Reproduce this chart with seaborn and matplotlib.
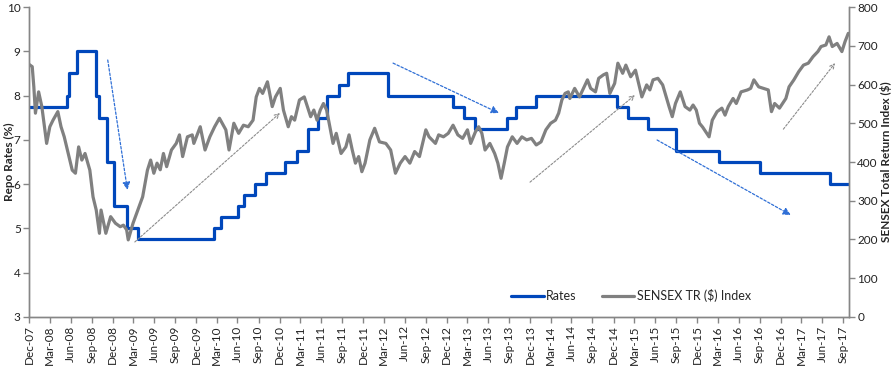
import numpy as np
import pandas as pd
import matplotlib
matplotlib.use('Agg')
import matplotlib.pyplot as plt
import matplotlib.dates as mdates
import seaborn as sns

# -------------------------------------------------------
# Data
# -------------------------------------------------------
# RBI repo rate changes (%), the last entry closes the final step
rate_dates = ['2007-12-31', '2008-06-12', '2008-06-25', '2008-07-30', '2008-10-20',
              '2008-11-03', '2008-12-08', '2009-01-05', '2009-03-05', '2009-04-21',
              '2010-03-19', '2010-04-20', '2010-07-02', '2010-07-27', '2010-09-16',
              '2010-11-02', '2011-01-25', '2011-03-17', '2011-05-03', '2011-06-16',
              '2011-07-26', '2011-09-16', '2011-10-25', '2012-04-17', '2013-01-29',
              '2013-03-19', '2013-05-03', '2013-09-20', '2013-10-29', '2014-01-28',
              '2015-01-15', '2015-03-04', '2015-06-02', '2015-09-29', '2016-04-05',
              '2016-10-04', '2017-08-02', '2017-10-26']
rates = [7.75, 8.0, 8.5, 9.0, 8.0, 7.5, 6.5, 5.5, 5.0, 4.75,
         5.0, 5.25, 5.5, 5.75, 6.0, 6.25, 6.5, 6.75, 7.25, 7.5,
         8.0, 8.25, 8.5, 8.0, 7.75, 7.5, 7.25, 7.5, 7.75, 8.0,
         7.75, 7.5, 7.25, 6.75, 6.5, 6.25, 6.0, 6.0]

# SENSEX TR ($) index, sampled by week number since 31-Dec-2007
sensex_start = '2007-12-31'
sensex_weeks = [0, 2, 3, 4, 6, 8, 11, 13, 15, 18, 20, 22, 27, 29, 31, 33, 35, 38, 40, 42,
                44, 45, 48, 51, 54, 57, 59, 61, 62, 65, 68, 71, 74, 76, 78, 80, 82, 84,
                86, 89, 92, 94, 96, 99, 102, 103, 107, 110, 113, 116, 119, 123, 125, 128,
                131, 134, 137, 140, 142, 144, 146, 149, 152, 154, 157, 159, 162, 164, 166, 169,
                172, 176, 178, 180, 182, 184, 186, 188, 190, 192, 195, 198, 200, 202, 204, 206,
                208, 210, 213, 216, 219, 223, 226, 229, 232, 235, 238, 241, 244, 248, 250,
                254, 256, 259, 262, 265, 268, 271, 274, 276, 279, 281, 283, 285, 288, 291, 293,
                295, 297, 299, 302, 305, 308, 311, 314, 317, 320, 323, 326, 329, 331, 333, 335, 337,
                338, 341, 344, 349, 351, 354, 356, 359, 361, 363, 366, 368, 371, 373, 376, 379,
                381, 383, 386, 388, 390, 393, 396, 400, 402, 404, 407, 410, 413, 415, 417,
                419, 421, 425, 427, 430, 433, 435, 437, 440, 442, 445, 449, 451, 453, 456, 459,
                462, 464, 466, 469, 473, 475, 478, 481, 484, 487, 490, 493, 495, 498, 500, 502,
                505, 508, 510, 512]
sensex = [652, 646, 594, 526, 581, 543, 448, 491, 508, 530, 491, 465, 379, 371, 439, 405, 422, 379, 310, 276,
          216, 276, 216, 259, 242, 233, 237, 225, 199, 242, 276, 310, 379, 405, 371, 397, 380, 422,
          388, 431, 448, 470, 414, 465, 470, 448, 491, 431, 465, 491, 513, 483, 431, 500,
          474, 495, 491, 508, 568, 590, 577, 607, 543, 568, 590, 534, 491, 517, 508, 560,
          568, 517, 534, 508, 534, 551, 534, 491, 448, 474, 422, 439, 470, 431, 397, 414,
          375, 397, 457, 487, 452, 448, 431, 371, 397, 414, 397, 427, 414, 483, 465,
          448, 470, 465, 474, 495, 470, 461, 483, 448, 478, 491, 474, 431, 448, 422, 397,
          358, 397, 439, 465, 448, 465, 457, 461, 444, 452, 483, 500, 508, 526, 560, 577, 581,
          564, 590, 568, 612, 590, 581, 616, 625, 629, 577, 603, 655, 629, 650, 620, 637,
          603, 568, 599, 586, 612, 616, 599, 543, 517, 551, 581, 543, 534, 547, 534,
          500, 490, 465, 508, 530, 539, 521, 543, 564, 551, 581, 586, 590, 612, 594, 590,
          586, 530, 551, 539, 564, 594, 612, 633, 650, 655, 672, 685, 698, 702, 723, 698,
          706, 685, 711, 732]

x_start, x_end = '2007-12-31', '2017-10-26'
tick_first, tick_last = '2007-12-31', '2017-09-30'

# Trend arrows (axes fraction): start, end, colour
arrows = [
    ((0.096, 0.829), (0.120, 0.410), 'blue'),
    ((0.129, 0.242), (0.306, 0.658), 'grey'),
    ((0.444, 0.819), (0.573, 0.658), 'blue'),
    ((0.611, 0.435), (0.739, 0.716), 'grey'),
    ((0.766, 0.571), (0.929, 0.329), 'blue'),
    ((0.920, 0.606), (0.983, 0.819), 'grey'),
]

BLUE = '#0047BB'
GREY = '#808080'
AXIS = '#868686'

rates_df = pd.DataFrame({'date': pd.to_datetime(rate_dates), 'rate': rates})
sensex_df = pd.DataFrame({
    'date': pd.Timestamp(sensex_start) + pd.to_timedelta(np.array(sensex_weeks) * 7, unit='D'),
    'value': sensex,
})

# -------------------------------------------------------
# Plot
# -------------------------------------------------------
sns.set_style("white")
plt.rcParams['font.family'] = ['Lato', 'DejaVu Sans']
plt.rcParams['font.size'] = 8.5

fig, ax = plt.subplots(figsize=(8.96, 3.79), dpi=100)
fig.subplots_adjust(left=0.0324, right=0.9475, top=0.9815, bottom=0.1636)
ax2 = ax.twinx()

sns.lineplot(data=rates_df, x='date', y='rate', ax=ax, color=BLUE, linewidth=2.3,
             drawstyle='steps-post', estimator=None, sort=False, label='Rates', legend=False)
sns.lineplot(data=sensex_df, x='date', y='value', ax=ax2, color=GREY, linewidth=2.3,
             estimator=None, sort=False, label='SENSEX TR ($) Index', legend=False)

ax.set_xlim(pd.Timestamp(x_start), pd.Timestamp(x_end))
ax.set_ylim(3, 10)
ax2.set_ylim(0, 800)
ax.set_yticks(range(3, 11))
ax2.set_yticks(range(0, 801, 100))

ticks = pd.date_range(tick_first, tick_last, freq='QE')
ax.set_xticks(ticks)
ax.xaxis.set_major_formatter(mdates.DateFormatter('%b-%y'))
plt.setp(ax.get_xticklabels(), rotation=90)

ax.set_xlabel('')
ax.set_ylabel('Repo Rates (%)', fontweight='bold', fontsize=8.5)
ax.yaxis.set_label_coords(-0.0175, 0.5)
ax2.set_ylabel('SENSEX Total Return Index ($)', fontweight='bold', fontsize=8.5)
ax2.yaxis.set_label_coords(1.038, 0.5)

for a in (ax, ax2):
    for side, sp in a.spines.items():
        sp.set_color(AXIS)
        sp.set_linewidth(1.0)
    a.spines['top'].set_visible(False)
    a.tick_params(axis='both', colors=AXIS, labelcolor='#222222', length=4, width=1,
                  direction='out', labelsize=8.5, pad=2)
ax.tick_params(axis='y', left=True)
ax.tick_params(axis='x', bottom=True)
ax2.tick_params(axis='y', right=True)
ax.grid(False)
ax2.grid(False)

for (x0, y0), (x1, y1), kind in arrows:
    if kind == 'blue':
        props = dict(arrowstyle='-|>', color='#2F6FD6', lw=0.9, linestyle=(0, (2, 1.5)),
                     mutation_scale=11, shrinkA=0, shrinkB=0)
    else:
        props = dict(arrowstyle='->', color='#8C8C8C', lw=0.8, linestyle=(0, (2, 1.5)),
                     mutation_scale=8, shrinkA=0, shrinkB=0)
    ax2.annotate('', xy=(x1, y1), xytext=(x0, y0), xycoords='axes fraction',
                 textcoords='axes fraction', arrowprops=props)

h1, l1 = ax.get_legend_handles_labels()
h2, l2 = ax2.get_legend_handles_labels()
ax2.legend(h1 + h2, l1 + l2, loc='center', bbox_to_anchor=(0.734, 0.068), ncol=2,
           frameon=False, handlelength=2.6, columnspacing=2.0, handletextpad=0.2,
           fontsize=9)

plt.savefig('out.png', dpi=100)
plt.close()
